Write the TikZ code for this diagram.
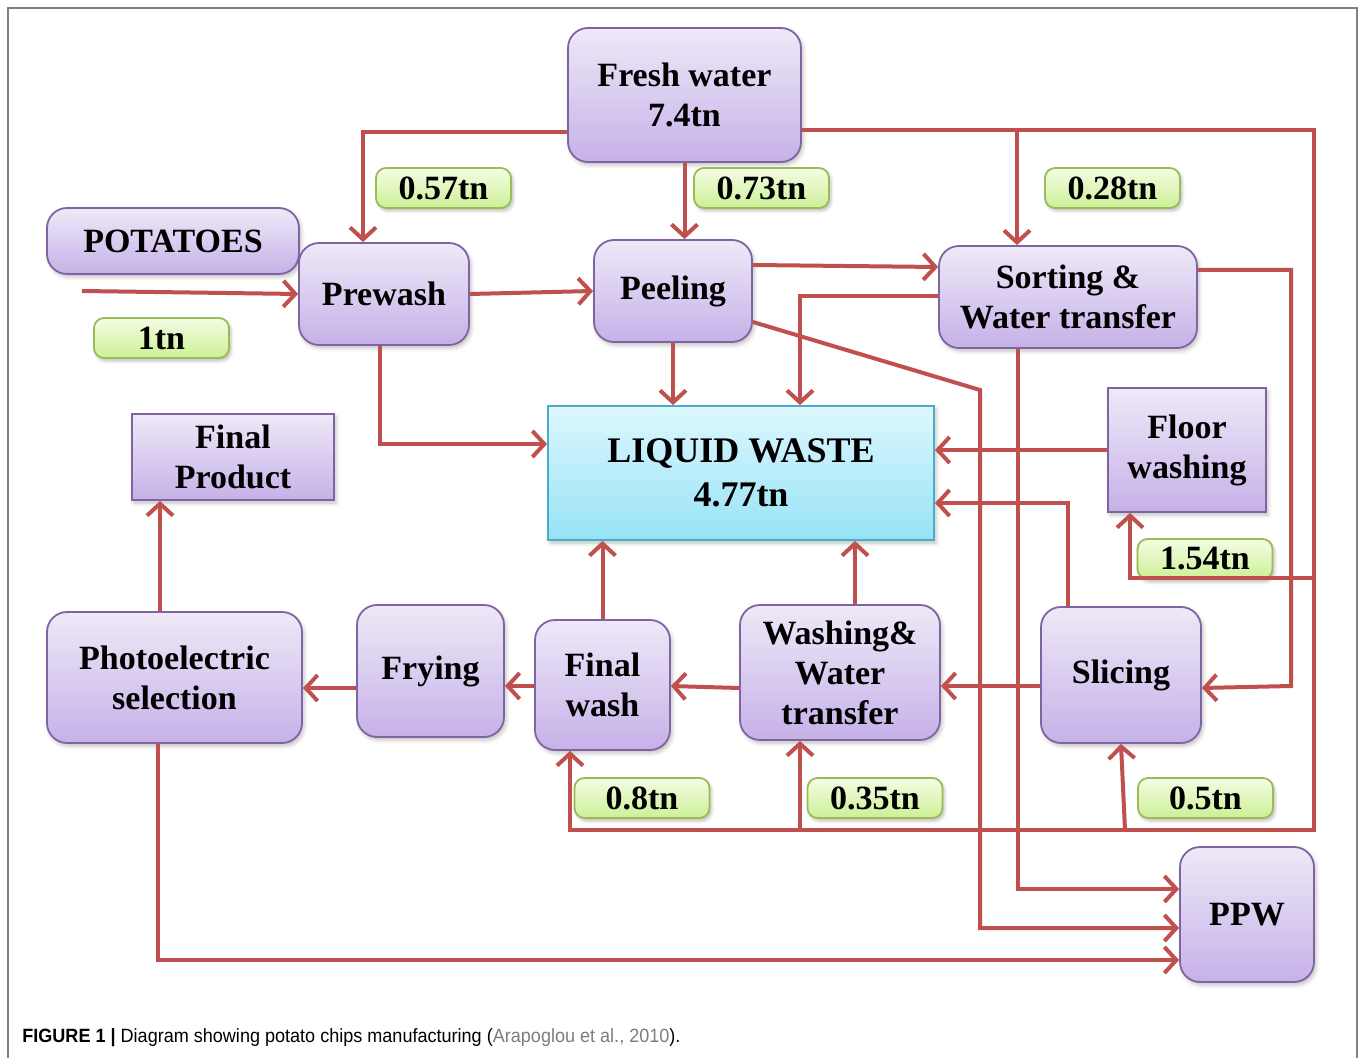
\documentclass[tikz,border=0pt]{standalone}
\usepackage{fontspec}
\setmainfont{Liberation Serif}
\setsansfont{Liberation Sans}
\usepackage{tikz}
\usetikzlibrary{arrows.meta}
\usetikzlibrary{shadows.blur}
\definecolor{flowred}{RGB}{192,80,77}
\definecolor{procline}{RGB}{128,100,162}
\definecolor{proctop}{RGB}{238,233,248}
\definecolor{procbot}{RGB}{198,177,232}
\definecolor{wasteline}{RGB}{75,172,198}
\definecolor{wastetop}{RGB}{222,248,254}
\definecolor{wastebot}{RGB}{150,226,246}
\definecolor{qtyline}{RGB}{155,187,89}
\definecolor{qtytop}{RGB}{244,253,228}
\definecolor{qtybot}{RGB}{204,240,150}
\definecolor{linkgray}{RGB}{125,125,125}

\begin{document}
\begin{tikzpicture}[x=0.5pt,y=0.5pt,yscale=-1,xscale=1,
  procbox/.style={rectangle, rounded corners=10pt, draw=procline, line width=0.9pt,
    top color=proctop, bottom color=procbot, align=center, inner sep=1pt,
    font=\bfseries\fontsize{17}{20}\selectfont,
    blur shadow={shadow xshift=1pt, shadow yshift=-1.5pt, shadow blur radius=2pt, shadow opacity=25}},
  plainbox/.style={procbox, rounded corners=0pt},
  wastebox/.style={plainbox, draw=wasteline, top color=wastetop, bottom color=wastebot,
    font=\bfseries\fontsize{18}{22}\selectfont},
  qtybox/.style={rectangle, rounded corners=5pt, draw=qtyline, line width=0.9pt,
    top color=qtytop, bottom color=qtybot, minimum width=67.5pt, minimum height=20pt,
    inner sep=1pt, font=\bfseries\fontsize{17}{20}\selectfont,
    blur shadow={shadow xshift=1pt, shadow yshift=-1.5pt, shadow blur radius=1.5pt, shadow opacity=25}},
  flow/.style={draw=flowred, line width=2pt, -{Straight Barb[length=6pt,width=13pt]}}
]
\useasboundingbox (0,0) rectangle (1360,1058);

%Straight Lines: frame
\draw [color={rgb, 255:red, 128; green, 128; blue, 128}, line width=0.6pt] (8,1058) -- (8,8) -- (1357,8) -- (1357,1058) ;

%Shape: Rounded Rect
\node [procbox, minimum width=116.5pt, minimum height=67pt] (fresh) at (684.5,95) {Fresh water\\7.4tn};
\node [procbox, minimum width=126pt, minimum height=33pt] (potatoes) at (173,241) {POTATOES};
\node [procbox, minimum width=85pt, minimum height=51pt] (prewash) at (384,294) {Prewash};
\node [procbox, minimum width=79pt, minimum height=51pt] (peeling) at (673,291) {Peeling};
\node [procbox, minimum width=129pt, minimum height=51pt] (sorting) at (1068,297) {Sorting \&\\Water transfer};
\node [procbox, minimum width=127.5pt, minimum height=65.5pt] (photo) at (174.5,677.5) {Photoelectric\\selection};
\node [procbox, minimum width=73.5pt, minimum height=66pt] (frying) at (430.5,671) {Frying};
\node [procbox, minimum width=67.5pt, minimum height=65pt] (finalwash) at (602.5,685) {Final\\wash};
\node [procbox, minimum width=100pt, minimum height=67.5pt] (washing) at (840,672.5) {Washing\&\\Water\\transfer};
\node [procbox, minimum width=80pt, minimum height=68pt] (slicing) at (1121,675) {Slicing};
\node [procbox, minimum width=67pt, minimum height=67.5pt] (ppw) at (1247,914.5) {PPW};
%Shape: Rectangle
\node [plainbox, minimum width=101pt, minimum height=43pt] (fprod) at (233,457) {Final\\Product};
\node [plainbox, minimum width=79pt, minimum height=62pt] (floor) at (1187,450) {Floor\\washing};
\node [wastebox, minimum width=193pt, minimum height=67pt] (lw) at (741,473) {LIQUID WASTE\\4.77tn};

% Text Node: quantities
\node [qtybox] (q057) at (443.5,188) {0.57tn};
\node [qtybox] (q073) at (761.5,188) {0.73tn};
\node [qtybox] (q028) at (1112.5,188) {0.28tn};
\node [qtybox] (q1) at (161.5,338) {1tn};
\node [qtybox] (q154) at (1205,559) {1.54tn};
\node [qtybox] (q08) at (642,798) {0.8tn};
\node [qtybox] (q035) at (875,798) {0.35tn};
\node [qtybox] (q05) at (1205.5,798) {0.5tn};

%Straight Lines: fresh water
\coordinate (potin) at (82,291);
\coordinate (jsort) at (1017,130);
\coordinate (jwash) at (800,830);
\coordinate (jslice) at (1125,830);
\coordinate (jfloor) at (1312,578);
\draw [flow] (fresh.west |- 0,132) -| (363,0 |- prewash.north) ;
\draw [flow] (fresh.south) -- (fresh.south |- peeling.north) ;
\draw [flow] (fresh.east |- 0,130) -| (1314,830) -| (570,0 |- finalwash.south) ;
\draw [flow] (jsort) -- (jsort |- sorting.north) ;
\draw [flow] (jwash) -- (jwash |- washing.south) ;
\draw [flow] (jslice) -- (slicing.south) ;
\draw [flow] (jfloor) -| (1130,0 |- floor.south) ;

%Straight Lines: main line
\draw [flow] (potin) -- (prewash.west) ;
\draw [flow] (prewash.east) -- (peeling.west) ;
\draw [flow] (peeling.east |- 0,265) -- (sorting.west |- 0,267) ;
\draw [flow] (sorting.east |- 0,270) -| (1291,686) -- (slicing.east |- 0,688) ;
\draw [flow] (slicing.west |- 0,686) -- (washing.east |- 0,686) ;
\draw [flow] (washing.west |- 0,688) -- (finalwash.east |- 0,686) ;
\draw [flow] (finalwash.west |- 0,686) -- (frying.east |- 0,686) ;
\draw [flow] (frying.west |- 0,688) -- (photo.east |- 0,688) ;
\draw [flow] (160,0 |- photo.north) -- (160,0 |- fprod.south) ;

%Straight Lines: liquid waste
\draw [flow] (380,0 |- prewash.south) |- (lw.west |- 0,444) ;
\draw [flow] (peeling.south) -- (peeling.south |- lw.north) ;
\draw [flow] (sorting.west |- 0,296) -| (800,0 |- lw.north) ;
\draw [flow] (floor.west) -- (lw.east |- floor.west) ;
\draw [flow] (1068,0 |- slicing.north) |- (lw.east |- 0,503) ;
\draw [flow] (855,0 |- washing.north) -- (855,0 |- lw.south) ;
\draw [flow] (finalwash.north) -- (finalwash.north |- lw.south) ;

%Straight Lines: PPW
\draw [flow] (peeling.east |- 0,322) -- (980,390) |- (ppw.west |- 0,928) ;
\draw [flow] (1018,0 |- sorting.south) |- (ppw.west |- 0,889) ;
\draw [flow] (158,0 |- photo.south) |- (ppw.west |- 0,960) ;

% Text Node: caption
\node [anchor=west, inner sep=0pt, font=\sffamily\fontsize{9.6}{11}\selectfont, xscale=0.94] (caption) at (22,1038) {\textbf{FIGURE 1 |} Diagram showing potato chips manufacturing ({\color{linkgray}Arapoglou et al., 2010}).};

\end{tikzpicture}
\end{document}
